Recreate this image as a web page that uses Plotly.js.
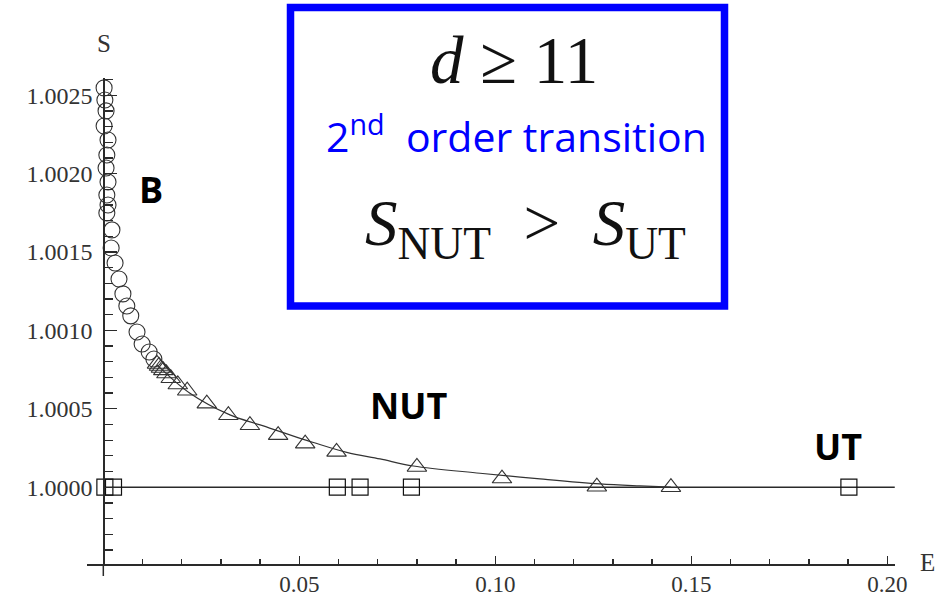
<!DOCTYPE html>
<html>
<head>
<meta charset="utf-8">
<script src="https://cdn.plot.ly/plotly-3.0.1.min.js"></script>
<style>html,body{margin:0;padding:0;background:#fff;}#chart{width:948px;height:598px;}</style>
</head>
<body>
<div id="chart"></div>
<script>
// ---- data ----
const circE = [0.0002,0.0004,0.0007,0.0002,0.0012,0.0009,0.0007,0.0012,0.0009,0.0012,0.0009,0.0022,0.0020,0.0030,0.0040,0.0050,0.0060,0.0070,0.0086,0.0099,0.0117,0.0129];
const circS = [1.002547,1.002470,1.002400,1.002304,1.002215,1.002119,1.002036,1.001947,1.001864,1.001800,1.001749,1.001641,1.001526,1.001430,1.001328,1.001233,1.001156,1.001093,1.000990,1.000913,1.000862,1.000818];

const triE = [0.0137,0.0142,0.0147,0.0153,0.0161,0.0172,0.0190,0.0214,0.0264,0.0319,0.0374,0.0446,0.0515,0.0595,0.0800,0.1017,0.1259,0.1448];
const triS = [1.000786,1.000773,1.000760,1.000745,1.000725,1.000695,1.000655,1.000615,1.000533,1.000459,1.000395,1.000332,1.000278,1.000225,1.000129,1.000055,1.000003,1.000000];

const curveE = [0.0137,0.0221,0.0323,0.0400,0.0536,0.0621,0.0706,0.0791,0.0961,0.1114,0.1267,0.1369,0.1448];
const curveS = [1.000780,1.000599,1.000461,1.000397,1.000285,1.000222,1.000180,1.000135,1.000089,1.000053,1.000021,1.000008,1.000000];

const sqE = [0.0004,0.0026,0.0597,0.0655,0.0786,0.1902];
const sqS = [1.0,1.0,1.0,1.0,1.0,1.0];

const utLineE = [0.0, 0.2019];
const utLineS = [1.0, 1.0];

const xTickLabels = {'0.00': ' '};
const labelB = 'B', labelNUT = 'NUT', labelUT = 'UT';
const boxLine1 = '<i>d</i> ≥ 11';
const boxLine2 = '2<sup>nd</sup>  order transition';
const boxLine3 = '<i>S</i><sub>NUT</sub>&nbsp;&nbsp;&gt;&nbsp;&nbsp;<i>S</i><sub>UT</sub>';

// ---- layout geometry ----
const W = 948, H = 598;
const L = 87, R = 895, T = 78, B = 564;
const pw = R - L, ph = B - T;
function px(x){ return (x - L) / pw; }
function py(y){ return (B - y) / ph; }

const ink = '#2a2a2a';
const serif = 'Liberation Serif, Times New Roman, serif';
const sans = 'Open Sans, Noto Sans, sans-serif';

const traces = [
  {x: utLineE, y: utLineS, mode: 'lines', line: {color: ink, width: 1.5}, hoverinfo: 'skip'},
  {x: curveE, y: curveS, mode: 'lines', line: {color: '#333', width: 1.2, shape: 'spline'}, hoverinfo: 'skip'},
  {x: circE, y: circS, mode: 'markers', cliponaxis: false,
   marker: {symbol: 'circle-open', size: 16, color: '#333', line: {width: 1.1}}},
  {x: triE, y: triS, mode: 'markers', cliponaxis: false,
   marker: {symbol: 'triangle-up-open', size: 17, color: '#333', line: {width: 1.1}}},
  {x: sqE, y: sqS, mode: 'markers', cliponaxis: false,
   marker: {symbol: 'square-open', size: 16, color: '#111', line: {width: 1.2}}}
];

const layout = {
  width: W, height: H,
  margin: {l: L, r: W - R, t: T, b: H - B, pad: 0},
  paper_bgcolor: '#fff', plot_bgcolor: 'rgba(0,0,0,0)',
  showlegend: false,
  font: {family: serif, color: '#333', size: 24},
  xaxis: {
    range: [-0.00416, 0.20196],
    showgrid: false, zeroline: false,
    showline: true, linecolor: ink, linewidth: 1.5,
    ticks: 'inside', ticklen: 8, tickwidth: 1.3, tickcolor: ink,
    tickmode: 'linear', tick0: 0, dtick: 0.05, tickformat: '.2f',
    labelalias: xTickLabels,
    tickfont: {family: serif, size: 23, color: '#333'},
    ticklabelstandoff: -1,
    minor: {ticks: 'inside', ticklen: 5, tickwidth: 1.3, tickcolor: ink, tick0: 0, dtick: 0.01, showgrid: false}
  },
  yaxis: {
    range: [0.99951, 1.00261],
    anchor: 'free', position: px(103.3), side: 'left',
    showgrid: false, zeroline: false,
    showline: true, linecolor: ink, linewidth: 1.5,
    ticks: 'inside', ticklen: 12, tickwidth: 1.3, tickcolor: ink,
    tickmode: 'linear', tick0: 1.0, dtick: 0.0005, tickformat: '.4f',
    tickfont: {family: serif, size: 24, color: '#333'},
    ticklabelstandoff: 6,
    minor: {ticks: 'inside', ticklen: 8, tickwidth: 1.3, tickcolor: ink, tick0: 1.0, dtick: 0.0001, showgrid: false}
  },
  shapes: [
    {type: 'line', xref: 'x', yref: 'paper', x0: 0, x1: 0, y0: py(576), y1: 0,
     line: {color: ink, width: 1.5}},
    {type: 'rect', xref: 'paper', yref: 'paper', layer: 'above',
     x0: px(290.5), x1: px(724.5), y0: py(306), y1: py(7.5),
     fillcolor: '#fff', line: {color: '#0000ff', width: 7.5}}
  ],
  annotations: [
    {xref: 'paper', yref: 'paper', x: px(104), y: py(43), text: 'S', showarrow: false,
     xanchor: 'center', yanchor: 'middle', font: {family: serif, size: 25, color: '#333'}},
    {xref: 'paper', yref: 'paper', x: px(927), y: py(562), text: 'E', showarrow: false,
     xanchor: 'center', yanchor: 'middle', font: {family: serif, size: 25, color: '#333'}},
    {xref: 'paper', yref: 'paper', x: px(151), y: py(189), text: '<b>' + labelB + '</b>', showarrow: false,
     xanchor: 'center', yanchor: 'middle', font: {family: sans, size: 36, color: '#000'}},
    {xref: 'paper', yref: 'paper', x: px(408), y: py(405), text: '<b>' + labelNUT + '</b>', showarrow: false,
     xanchor: 'center', yanchor: 'middle', font: {family: sans, size: 36, color: '#000'}},
    {xref: 'paper', yref: 'paper', x: px(838), y: py(446), text: '<b>' + labelUT + '</b>', showarrow: false,
     xanchor: 'center', yanchor: 'middle', font: {family: sans, size: 36, color: '#000'}},
    {xref: 'paper', yref: 'paper', x: px(514), y: py(60), text: boxLine1, showarrow: false,
     xanchor: 'center', yanchor: 'middle', font: {family: serif, size: 67, color: '#111'}},
    {xref: 'paper', yref: 'paper', x: px(516), y: py(134), text: boxLine2, showarrow: false,
     xanchor: 'center', yanchor: 'middle', font: {family: sans, size: 41, color: '#0000ff'}},
    {xref: 'paper', yref: 'paper', x: px(525), y: py(228), text: boxLine3, showarrow: false,
     xanchor: 'center', yanchor: 'middle', font: {family: serif, size: 65, color: '#111'}}
  ]
};

Plotly.newPlot('chart', traces, layout, {displayModeBar: false, staticPlot: true});
</script>
</body>
</html>
